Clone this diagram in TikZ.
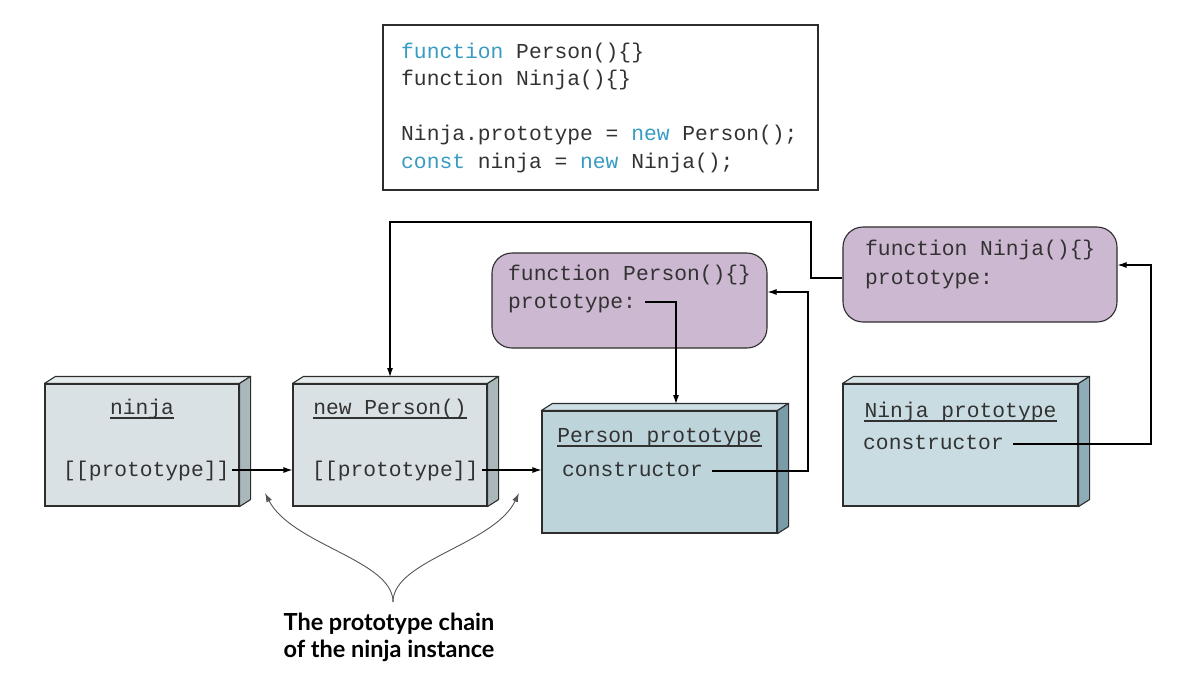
\documentclass[tikz,border=0pt]{standalone}
\usepackage{fontspec}
\usetikzlibrary{arrows.meta}
\newfontfamily\codefont{Liberation Mono}
\newfontfamily\labelfont{Lato}
\newcommand\monof{\codefont\fontsize{21.3pt}{27.5pt}\selectfont}
\definecolor{txt}{RGB}{50,50,50}
\definecolor{kw}{RGB}{55,155,195}
\definecolor{edge}{RGB}{45,45,45}
\definecolor{grayf}{RGB}{218,225,228}
\definecolor{grayt}{RGB}{230,235,237}
\definecolor{grays}{RGB}{170,184,188}
\definecolor{pprf}{RGB}{189,212,219}
\definecolor{pprt}{RGB}{205,222,228}
\definecolor{pprs}{RGB}{122,155,168}
\definecolor{nprf}{RGB}{201,220,226}
\definecolor{nprt}{RGB}{215,229,233}
\definecolor{nprs}{RGB}{143,172,185}
\definecolor{purp}{RGB}{205,184,209}
\definecolor{curvec}{RGB}{85,85,85}
\newcommand\drawdepth[3]{%
  \filldraw[draw=edge, line width=1.1pt, fill=#2, line join=round]
    (#1.north west) -- ++(11,-7) -- ([shift={(11,-7)}]#1.north east) -- (#1.north east) -- cycle;
  \filldraw[draw=edge, line width=1.1pt, fill=#3, line join=round]
    (#1.north east) -- ++(11,-7) -- ([shift={(11,-7)}]#1.south east) -- (#1.south east) -- cycle;}
\begin{document}
\begin{tikzpicture}[x=1pt, y=-1pt,
  mono/.style={font=\monof, text=txt, inner sep=0, anchor=base west},
  title/.style={font=\monof, text=txt, inner sep=0, anchor=base},
  conn/.style={draw=black, line width=1.1pt},
  arr/.style={conn, -{Latex[length=9pt,width=6pt]}},
  frontbox/.style={draw=edge, line width=1.1pt, rectangle, inner sep=0},
  fnbox/.style={draw=edge, fill=purp, rounded corners=20pt, line width=1.1pt, rectangle, inner sep=0},
  curve/.style={draw=curvec, line width=0.9pt, -{Latex[length=9pt,width=6pt]}}
]
\useasboundingbox (0,0) rectangle (1186,678);

% code box
\node[draw=edge, line width=1.1pt, minimum width=435pt, minimum height=165pt, inner sep=0] (code) at (600.5,107.5) {};
\node[mono] (c1) at (401,58) {\textcolor{kw}{function} Person()\{\}};
\node[mono] (c2) at (401,85.5) {function Ninja()\{\}};
\node[mono] (c3) at (401,140.5) {Ninja.prototype = \textcolor{kw}{new} Person();};
\node[mono] (c4) at (401,168) {\textcolor{kw}{const} ninja = \textcolor{kw}{new} Ninja();};

% function boxes
\node[fnbox, minimum width=275pt, minimum height=95pt] (pfn) at (629.5,300.5) {};
\node[mono] (pfn1) at (508,280) {function Person()\{\}};
\node[mono] (pfn2) at (508,308) {prototype:};
\node[fnbox, minimum width=274pt, minimum height=95pt] (nfn) at (980,274.5) {};
\node[mono] (nfn1) at (865,255) {function Ninja()\{\}};
\node[mono] (nfn2) at (865,284) {prototype:};

% 3D boxes
\node[frontbox, fill=grayf, minimum width=194pt, minimum height=122pt] (ninja) at (142,445) {};
\drawdepth{ninja}{grayt}{grays}
\node[frontbox, fill=grayf, minimum width=194pt, minimum height=122pt] (np) at (390,445) {};
\drawdepth{np}{grayt}{grays}
\node[frontbox, fill=pprf, minimum width=235pt, minimum height=122pt] (pp) at (659.5,472) {};
\drawdepth{pp}{pprt}{pprs}
\node[frontbox, fill=nprf, minimum width=235pt, minimum height=122pt] (npr) at (960.5,445) {};
\drawdepth{npr}{nprt}{nprs}

% box texts
\node[title] (t1) at (142,414) {ninja};
\node[title] (t2) at (390,414) {new Person()};
\node[title] (t3) at (659.5,442) {Person prototype};
\node[title] (t4) at (960.5,417) {Ninja prototype};
\foreach \t in {t1,t2,t3,t4}
  \draw[draw=txt, line width=1.1pt] ([yshift=-4pt]\t.base west) -- ([yshift=-4pt]\t.base east);
\node[mono] (pr1) at (63,476) {[[prototype]]};
\node[mono] (pr2) at (312,476) {[[prototype]]};
\node[mono] (con1) at (562,476) {constructor};
\node[mono] (con2) at (863,449) {constructor};

% connectors
\coordinate (a1) at (232,470);
\coordinate (a2) at (482,470);
\draw[arr] (a1) -- (a1 -| np.west);
\draw[arr] (a2) -- (a2 -| pp.west);

\coordinate (nfnout) at (nfn.west |- 0,278);
\coordinate (nptop) at (390,377);
\draw[arr] (nfnout) -- (811,278) -- (811,222) -- (390,222) -- (nptop);

\coordinate (pfnout) at (645,302);
\coordinate (pptop) at (676,404);
\draw[arr] (pfnout) -- (676,302) -- (pptop);

\coordinate (conout1) at (712,471);
\coordinate (pfnin) at (pfn.east |- 0,292);
\draw[arr] (conout1) -- (808,471) -- (808,292) -- (pfnin);

\coordinate (conout2) at (1013,444);
\coordinate (nfnin) at (nfn.east |- 0,265);
\draw[arr] (conout2) -- (1151,444) -- (1151,265) -- (nfnin);

% label and brace curves
\node[font=\labelfont\bfseries\fontsize{23.5pt}{26.5pt}\selectfont, text=black, align=center, anchor=north, inner sep=0] (lbl) at (389,613) {The prototype chain\\of the ninja instance};
\coordinate (apex) at (393,602);
\coordinate (tipL) at (265,493);
\coordinate (tipR) at (519,493);
\draw[curve] (apex) .. controls (393,560) and (292,545) .. (tipL);
\draw[curve] (apex) .. controls (393,560) and (494,545) .. (tipR);
\end{tikzpicture}
\end{document}
